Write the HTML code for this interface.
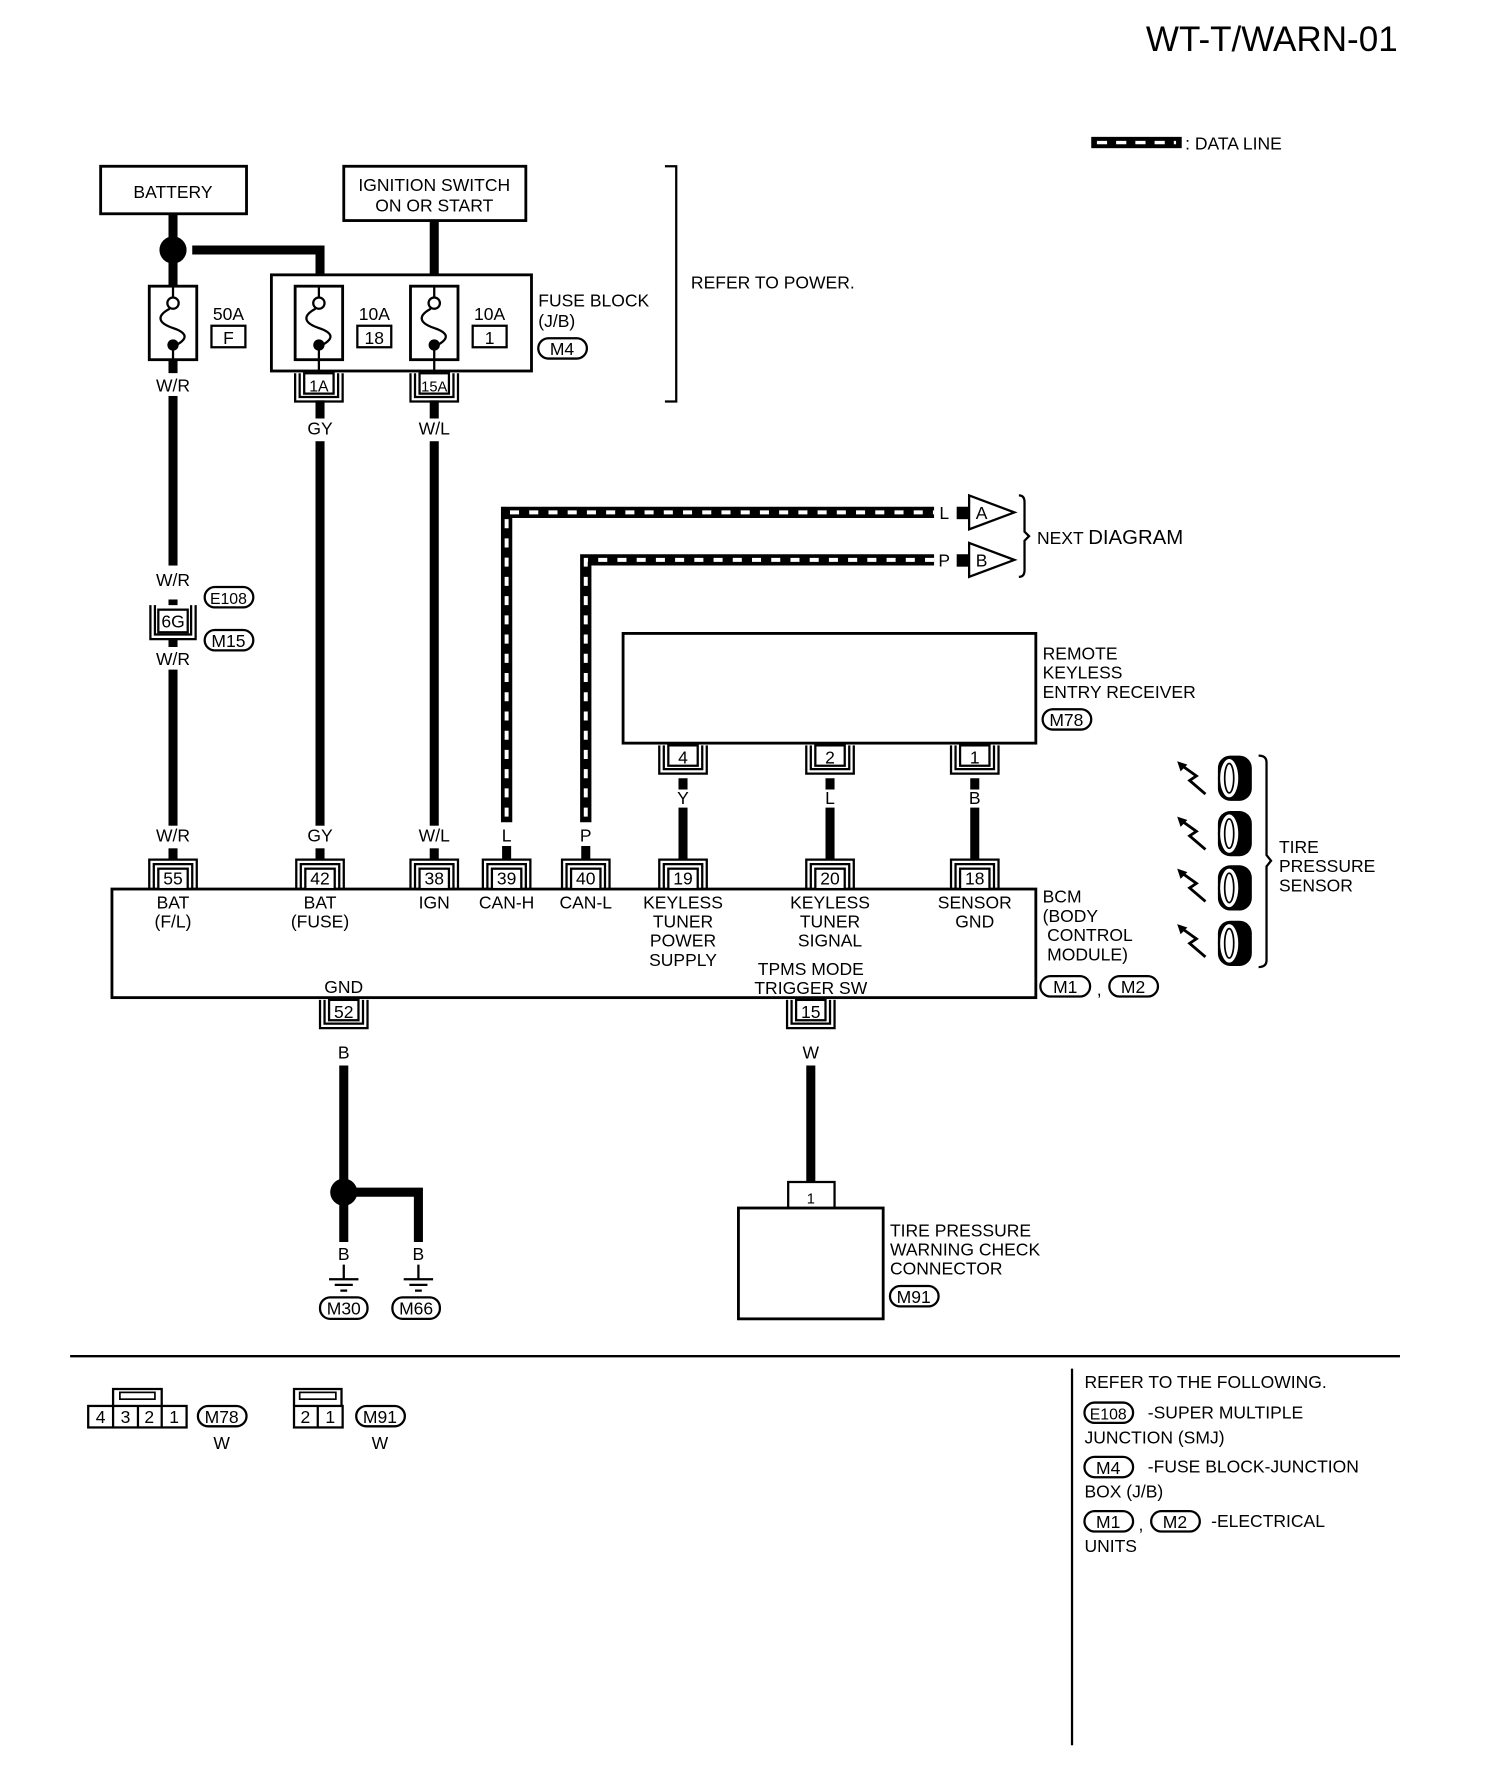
<!DOCTYPE html>
<html><head><meta charset="utf-8"><style>
html,body{margin:0;padding:0;background:#fff}
svg{display:block}
text{font-family:"Liberation Sans",sans-serif;font-size:15.5px;fill:#000}
.c{text-anchor:middle}
</style></head><body>
<svg width="1504" height="1786" viewBox="0 0 1330 1579" preserveAspectRatio="none" xmlns="http://www.w3.org/2000/svg">
<defs>
<g id="cu"><path d="M-21,26V0H21V26M-17,26V4H17V26" fill="none" stroke="#000" stroke-width="2"/><rect x="-13" y="8" width="26" height="18" fill="#fff" stroke="#000" stroke-width="2"/></g>
<g id="cd"><path d="M-21,0V25H21V0M-17,0V21H17V0" fill="none" stroke="#000" stroke-width="2"/><rect x="-13" y="0" width="26" height="18" fill="#fff" stroke="#000" stroke-width="2"/></g>
<g id="fuse"><rect x="-21" y="0" width="42" height="65" fill="#fff" stroke="#000" stroke-width="2.5"/><path d="M0,0V10M0,55V65" stroke="#000" stroke-width="2"/><circle cx="0" cy="15" r="5" fill="#fff" stroke="#000" stroke-width="2"/><path d="M-3,20C-16,27 -12,33 0,37C12,41 14,46 3,52" fill="none" stroke="#000" stroke-width="2"/><circle cx="0" cy="52" r="5" fill="#000"/></g>
<g id="tire"><rect x="-15" y="-20" width="30" height="40" rx="11" fill="#000"/><ellipse cx="-5" cy="0" rx="9" ry="18" fill="#fff" stroke="#000" stroke-width="2"/><ellipse cx="-5" cy="0" rx="4" ry="13" fill="#fff" stroke="#000" stroke-width="1.5"/></g>
<g id="bolt"><path d="M12,14L-2,2L4,-2L-10,-12" fill="none" stroke="#000" stroke-width="2.5"/><path d="M-13,-15L-4,-12L-10,-6Z" fill="#000"/></g>
<g id="gnd"><path d="M-13,0H13M-8,5H8M-3,10H3" stroke="#000" stroke-width="2"/></g>
</defs>

<text x="1236" y="45" text-anchor="end" style="font-size:31px">WT-T/WARN-01</text>

<rect x="965" y="121" width="80" height="10" fill="#000"/>
<path d="M970,126H1040" stroke="#fff" stroke-width="3" stroke-dasharray="9 8"/>
<text x="1048" y="132">: DATA LINE</text>

<g stroke="#000" stroke-width="8" fill="none">
<path d="M153,189V330M153,350V535M153,565V760"/>
<path d="M170,221H283V243"/>
<path d="M384,195V243"/>
<path d="M283,354V370M384,354V370"/>
<path d="M283,390V760M384,390V760"/>
<path d="M604,688V760M734,688V760M862,688V760"/>
<path d="M304,942V1098M304,1054H370V1098"/>
<path d="M717,942V1045"/>
</g>
<g fill="#fff"><rect x="140" y="330" width="26" height="20"/><rect x="140" y="500" width="26" height="30"/><rect x="140" y="572" width="26" height="20"/><rect x="140" y="730" width="26" height="20"/>
<rect x="270" y="730" width="26" height="20"/><rect x="371" y="730" width="26" height="20"/>
<rect x="270" y="370" width="26" height="20"/><rect x="371" y="370" width="26" height="20"/>
<rect x="591" y="698" width="26" height="16"/><rect x="721" y="698" width="26" height="16"/><rect x="849" y="698" width="26" height="16"/>
<rect x="291" y="922" width="26" height="20"/><rect x="704" y="922" width="26" height="20"/><rect x="291" y="1100" width="26" height="20"/><rect x="357" y="1100" width="26" height="20"/></g>
<circle cx="153" cy="221" r="12" fill="#000"/>
<circle cx="304" cy="1054" r="12" fill="#000"/>

<path d="M448,727V453H826M518,727V495H826" fill="none" stroke="#000" stroke-width="10"/>
<path d="M448,722V453H826M518,722V495H826" fill="none" stroke="#fff" stroke-width="3.5" stroke-dasharray="8 9"/>
<path d="M448,748V760M518,748V760" stroke="#000" stroke-width="8"/>
<text x="835" y="459" class="c">L</text><text x="835" y="501" class="c">P</text>
<rect x="846" y="448" width="10" height="11" fill="#000"/><rect x="846" y="490" width="10" height="11" fill="#000"/>
<path d="M857,438L897,453L857,468Z" fill="#fff" stroke="#000" stroke-width="2"/>
<path d="M857,480L897,495L857,510Z" fill="#fff" stroke="#000" stroke-width="2"/>
<text x="868" y="459" class="c">A</text><text x="868" y="501" class="c">B</text>
<path d="M901,438Q906,438 906,444V470L910,474L906,478V504Q906,510 901,510" fill="none" stroke="#000" stroke-width="2"/>
<text x="917" y="481">NEXT <tspan style="font-size:18px">DIAGRAM</tspan></text>

<rect x="89" y="147" width="129" height="42" fill="#fff" stroke="#000" stroke-width="2.5"/>
<text x="153" y="175" class="c">BATTERY</text>
<rect x="304" y="147" width="161" height="48" fill="#fff" stroke="#000" stroke-width="2.5"/>
<text x="384" y="169" class="c">IGNITION SWITCH</text><text x="384" y="187" class="c">ON OR START</text>

<use href="#fuse" x="153" y="253"/>
<text x="202" y="283" class="c">50A</text><rect x="187" y="288" width="30" height="19" fill="#fff" stroke="#000" stroke-width="2"/><text x="202" y="304" class="c">F</text>
<rect x="240" y="243" width="230" height="85" fill="#fff" stroke="#000" stroke-width="2.5"/>
<use href="#fuse" x="282" y="253"/><use href="#fuse" x="384" y="253"/>
<path d="M282,318V330M384,318V330" stroke="#000" stroke-width="2"/>
<text x="331" y="283" class="c">10A</text><rect x="316" y="288" width="30" height="19" fill="#fff" stroke="#000" stroke-width="2"/><text x="331" y="304" class="c">18</text>
<text x="433" y="283" class="c">10A</text><rect x="418" y="288" width="30" height="19" fill="#fff" stroke="#000" stroke-width="2"/><text x="433" y="304" class="c">1</text>
<text x="476" y="271">FUSE BLOCK</text><text x="476" y="289">(J/B)</text>
<rect x="476" y="299" width="43" height="18" rx="9" fill="#fff" stroke="#000" stroke-width="2"/><text x="497" y="314" class="c">M4</text>
<use href="#cd" x="282" y="330"/><text x="282" y="346" class="c" style="font-size:14px">1A</text>
<use href="#cd" x="384" y="330"/><text x="384" y="346" class="c" style="font-size:13px">15A</text>
<path d="M588,147H598V355H588" fill="none" stroke="#000" stroke-width="2"/>
<text x="611" y="255">REFER TO POWER.</text>

<text x="153" y="346" class="c">W/R</text>
<text x="283" y="384" class="c">GY</text><text x="384" y="384" class="c">W/L</text>
<text x="153" y="518" class="c">W/R</text>
<path d="M133,535V565H173V535M137,535V561H169V535" fill="none" stroke="#000" stroke-width="2"/>
<rect x="140" y="539" width="26" height="20" fill="#fff" stroke="#000" stroke-width="2"/><text x="153" y="555" class="c">6G</text>
<text x="153" y="588" class="c">W/R</text>
<rect x="181" y="519" width="43" height="18" rx="9" fill="#fff" stroke="#000" stroke-width="2"/><text x="202" y="534" class="c" style="font-size:14px">E108</text>
<rect x="181" y="557" width="43" height="18" rx="9" fill="#fff" stroke="#000" stroke-width="2"/><text x="202" y="572" class="c">M15</text>

<text x="153" y="744" class="c">W/R</text><text x="283" y="744" class="c">GY</text><text x="384" y="744" class="c">W/L</text><text x="448" y="744" class="c">L</text><text x="518" y="744" class="c">P</text>
<text x="604" y="711" class="c">Y</text><text x="734" y="711" class="c">L</text><text x="862" y="711" class="c">B</text>

<rect x="551" y="560" width="365" height="97" fill="#fff" stroke="#000" stroke-width="2.5"/>
<text x="922" y="583">REMOTE</text><text x="922" y="600">KEYLESS</text><text x="922" y="617">ENTRY RECEIVER</text>
<rect x="922" y="627" width="43" height="18" rx="9" fill="#fff" stroke="#000" stroke-width="2"/><text x="943" y="642" class="c">M78</text>
<use href="#cd" x="604" y="659"/><text x="604" y="675" class="c">4</text>
<use href="#cd" x="734" y="659"/><text x="734" y="675" class="c">2</text>
<use href="#cd" x="862" y="659"/><text x="862" y="675" class="c">1</text>

<rect x="99" y="786" width="817" height="96" fill="#fff" stroke="#000" stroke-width="2.5"/>
<use href="#cu" x="153" y="760"/><text x="153" y="782" class="c">55</text>
<use href="#cu" x="283" y="760"/><text x="283" y="782" class="c">42</text>
<use href="#cu" x="384" y="760"/><text x="384" y="782" class="c">38</text>
<use href="#cu" x="448" y="760"/><text x="448" y="782" class="c">39</text>
<use href="#cu" x="518" y="760"/><text x="518" y="782" class="c">40</text>
<use href="#cu" x="604" y="760"/><text x="604" y="782" class="c">19</text>
<use href="#cu" x="734" y="760"/><text x="734" y="782" class="c">20</text>
<use href="#cu" x="862" y="760"/><text x="862" y="782" class="c">18</text>
<text x="153" y="803" class="c">BAT</text><text x="153" y="820" class="c">(F/L)</text>
<text x="283" y="803" class="c">BAT</text><text x="283" y="820" class="c">(FUSE)</text>
<text x="384" y="803" class="c">IGN</text>
<text x="448" y="803" class="c">CAN-H</text><text x="518" y="803" class="c">CAN-L</text>
<text x="604" y="803" class="c">KEYLESS</text><text x="604" y="820" class="c">TUNER</text><text x="604" y="837" class="c">POWER</text><text x="604" y="854" class="c">SUPPLY</text>
<text x="734" y="803" class="c">KEYLESS</text><text x="734" y="820" class="c">TUNER</text><text x="734" y="837" class="c">SIGNAL</text>
<text x="862" y="803" class="c">SENSOR</text><text x="862" y="820" class="c">GND</text>
<text x="717" y="862" class="c">TPMS MODE</text><text x="717" y="879" class="c">TRIGGER SW</text>
<text x="304" y="878" class="c">GND</text>
<text x="922" y="798">BCM</text><text x="922" y="815">(BODY</text><text x="926" y="832">CONTROL</text><text x="926" y="849">MODULE)</text>
<rect x="920" y="863" width="44" height="18" rx="9" fill="#fff" stroke="#000" stroke-width="2"/><text x="942" y="878" class="c">M1</text>
<text x="972" y="880" class="c">,</text>
<rect x="981" y="863" width="43" height="18" rx="9" fill="#fff" stroke="#000" stroke-width="2"/><text x="1002" y="878" class="c">M2</text>
<use href="#cd" x="304" y="884"/><text x="304" y="900" class="c">52</text>
<use href="#cd" x="717" y="884"/><text x="717" y="900" class="c">15</text>
<text x="304" y="936" class="c">B</text><text x="717" y="936" class="c">W</text>

<text x="304" y="1114" class="c">B</text><text x="370" y="1114" class="c">B</text>
<path d="M304,1118V1131M370,1118V1131" stroke="#000" stroke-width="2"/>
<use href="#gnd" x="304" y="1131"/><use href="#gnd" x="370" y="1131"/>
<rect x="283" y="1147" width="42" height="19" rx="9" fill="#fff" stroke="#000" stroke-width="2"/><text x="304" y="1162" class="c">M30</text>
<rect x="347" y="1147" width="42" height="19" rx="9" fill="#fff" stroke="#000" stroke-width="2"/><text x="368" y="1162" class="c">M66</text>

<path d="M697,1068V1045H738V1068" fill="#fff" stroke="#000" stroke-width="2"/>
<text x="717" y="1064" class="c" style="font-size:13px">1</text>
<rect x="653" y="1068" width="128" height="98" fill="#fff" stroke="#000" stroke-width="2.5"/>
<text x="787" y="1093">TIRE PRESSURE</text><text x="787" y="1110">WARNING CHECK</text><text x="787" y="1127">CONNECTOR</text>
<rect x="787" y="1137" width="43" height="18" rx="9" fill="#fff" stroke="#000" stroke-width="2"/><text x="808" y="1152" class="c">M91</text>

<use href="#tire" x="1092" y="688"/><use href="#tire" x="1092" y="737"/><use href="#tire" x="1092" y="785"/><use href="#tire" x="1092" y="834"/>
<use href="#bolt" x="1054" y="688"/><use href="#bolt" x="1054" y="737"/><use href="#bolt" x="1054" y="783"/><use href="#bolt" x="1054" y="832"/>
<path d="M1113,668Q1120,668 1120,674V756L1124,761L1120,766V849Q1120,855 1113,855" fill="none" stroke="#000" stroke-width="2"/>
<text x="1131" y="754">TIRE</text><text x="1131" y="771">PRESSURE</text><text x="1131" y="788">SENSOR</text>

<path d="M62,1199H1238M948,1210V1543" stroke="#000" stroke-width="2"/>
<path d="M100,1243V1228H143V1243" fill="#fff" stroke="#000" stroke-width="2"/><rect x="106" y="1231" width="31" height="6" fill="none" stroke="#000" stroke-width="1.5"/>
<rect x="78" y="1243" width="87" height="19" fill="#fff" stroke="#000" stroke-width="2"/>
<path d="M100,1243V1262M122,1243V1262M143,1243V1262" stroke="#000" stroke-width="2"/>
<text x="89" y="1258" class="c">4</text><text x="111" y="1258" class="c">3</text><text x="132" y="1258" class="c">2</text><text x="154" y="1258" class="c">1</text>
<rect x="175" y="1243" width="43" height="18" rx="9" fill="#fff" stroke="#000" stroke-width="2"/><text x="196" y="1258" class="c">M78</text>
<text x="196" y="1281" class="c">W</text>
<path d="M260,1243V1228H302V1243" fill="#fff" stroke="#000" stroke-width="2"/><rect x="265" y="1231" width="32" height="6" fill="none" stroke="#000" stroke-width="1.5"/>
<rect x="260" y="1243" width="43" height="19" fill="#fff" stroke="#000" stroke-width="2"/><path d="M281,1243V1262" stroke="#000" stroke-width="2"/>
<text x="270" y="1258" class="c">2</text><text x="292" y="1258" class="c">1</text>
<rect x="315" y="1243" width="43" height="18" rx="9" fill="#fff" stroke="#000" stroke-width="2"/><text x="336" y="1258" class="c">M91</text>
<text x="336" y="1281" class="c">W</text>

<text x="959" y="1227">REFER TO THE FOLLOWING.</text>
<rect x="959" y="1240" width="43" height="18" rx="9" fill="#fff" stroke="#000" stroke-width="2"/><text x="980" y="1255" class="c" style="font-size:14px">E108</text>
<text x="1015" y="1254">-SUPER MULTIPLE</text><text x="959" y="1276">JUNCTION (SMJ)</text>
<rect x="959" y="1288" width="43" height="18" rx="9" fill="#fff" stroke="#000" stroke-width="2"/><text x="980" y="1303" class="c">M4</text>
<text x="1015" y="1302">-FUSE BLOCK-JUNCTION</text><text x="959" y="1324">BOX (J/B)</text>
<rect x="959" y="1336" width="43" height="18" rx="9" fill="#fff" stroke="#000" stroke-width="2"/><text x="980" y="1351" class="c">M1</text>
<text x="1009" y="1353" class="c">,</text>
<rect x="1018" y="1336" width="43" height="18" rx="9" fill="#fff" stroke="#000" stroke-width="2"/><text x="1039" y="1351" class="c">M2</text>
<text x="1071" y="1350">-ELECTRICAL</text><text x="959" y="1372">UNITS</text>
</svg>
</body></html>
